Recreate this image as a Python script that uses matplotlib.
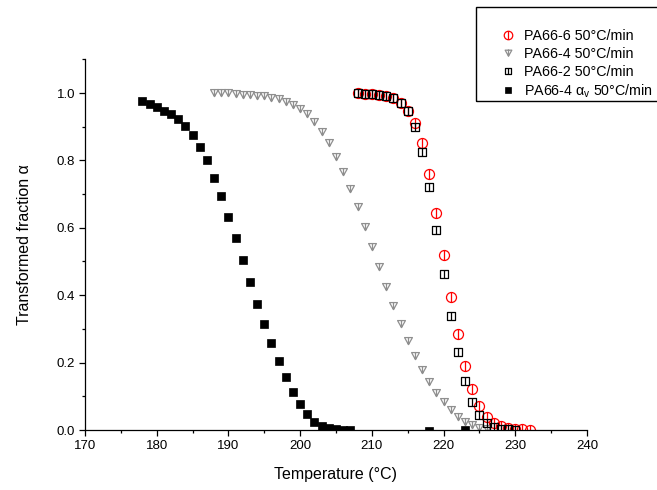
import numpy as np
import matplotlib
matplotlib.use("Agg")
import matplotlib.pyplot as plt
from matplotlib.path import Path
from matplotlib.patches import Rectangle
from matplotlib.ticker import MultipleLocator

plt.rcParams['font.family'] = ['Liberation Sans', 'DejaVu Sans']
plt.rcParams['mathtext.fontset'] = 'custom'
plt.rcParams['mathtext.rm'] = 'Liberation Sans'
plt.rcParams['mathtext.it'] = 'Liberation Sans'

# ---------------- data ----------------
t_pa666 = [208, 209, 210, 211, 212, 213, 214, 215, 216, 217, 218, 219, 220,
           221, 222, 223, 224, 225, 226, 227, 228, 229, 230, 231, 232]
a_pa666 = [0.999, 0.998, 0.997, 0.995, 0.991, 0.984, 0.971, 0.947, 0.910,
           0.851, 0.759, 0.645, 0.518, 0.395, 0.284, 0.191, 0.121, 0.071,
           0.040, 0.022, 0.012, 0.007, 0.004, 0.002, 0.001]

t_pa664 = list(range(188, 227))
a_pa664 = [1.000, 0.999, 0.999, 0.997, 0.995, 0.994, 0.992, 0.990, 0.986,
           0.981, 0.973, 0.965, 0.953, 0.937, 0.913, 0.884, 0.851, 0.811,
           0.767, 0.715, 0.661, 0.603, 0.544, 0.483, 0.425, 0.368, 0.315,
           0.265, 0.220, 0.178, 0.143, 0.111, 0.082, 0.059, 0.040, 0.025,
           0.014, 0.007, 0.002]

t_pa662 = [208, 209, 210, 211, 212, 213, 214, 215, 216, 217, 218, 219, 220,
           221, 222, 223, 224, 225, 226, 227, 228, 229, 230]
a_pa662 = [0.999, 0.998, 0.997, 0.995, 0.991, 0.984, 0.971, 0.947, 0.900,
           0.826, 0.720, 0.593, 0.462, 0.338, 0.230, 0.145, 0.084, 0.045,
           0.020, 0.009, 0.004, 0.002, 0.001]

t_av = [178, 179, 180, 181, 182, 183, 184, 185, 186, 187, 188, 189, 190,
        191, 192, 193, 194, 195, 196, 197, 198, 199, 200, 201, 202, 203,
        204, 205, 206, 207, 218, 223]
a_av = [0.975, 0.968, 0.958, 0.948, 0.938, 0.922, 0.902, 0.875, 0.840,
        0.800, 0.749, 0.693, 0.633, 0.569, 0.503, 0.438, 0.375, 0.314,
        0.257, 0.205, 0.156, 0.113, 0.077, 0.047, 0.025, 0.012, 0.005,
        0.002, 0.001, 0.000, -0.004, 0.000]

labels = ['PA66-6 50°C/min', 'PA66-4 50°C/min', 'PA66-2 50°C/min',
          r'PA66-4 $\alpha_\mathregular{v}$ 50°C/min']
x_ticks = [170, 180, 190, 200, 210, 220, 230, 240]
y_ticks = [0.0, 0.2, 0.4, 0.6, 0.8, 1.0]

# ---------------- custom markers ----------------
vline = Path([[0, -1], [0, 1]], [Path.MOVETO, Path.LINETO])
circ_bar = Path.make_compound_path(Path.unit_circle(), vline)
sq = Path([[-1, -1], [1, -1], [1, 1], [-1, 1], [-1, -1]],
          [Path.MOVETO, Path.LINETO, Path.LINETO, Path.LINETO, Path.CLOSEPOLY])
sq_bar = Path.make_compound_path(sq, vline)
tri = Path([[-1, 1], [1, 1], [0, -0.8], [-1, 1]],
           [Path.MOVETO, Path.LINETO, Path.LINETO, Path.CLOSEPOLY])
tri_bar = Path.make_compound_path(tri, Path([[0, 1.15], [0, -0.8]],
                                            [Path.MOVETO, Path.LINETO]))

fig = plt.figure(figsize=(6.57, 4.90), dpi=100)
ax = fig.add_axes([85 / 657, 1 - 430 / 490, 502 / 657, (430 - 59.3) / 490])

h1, = ax.plot(t_pa666, a_pa666, linestyle='none', marker=circ_bar,
              markersize=7.2, markerfacecolor='none', markeredgecolor='#ff0000',
              markeredgewidth=0.9, label=labels[0])
h2, = ax.plot(t_pa664, a_pa664, linestyle='none', marker=tri_bar,
              markersize=6.5, markerfacecolor='none', markeredgecolor='#8f8f8f',
              markeredgewidth=0.9, label=labels[1])
h3, = ax.plot(t_pa662, a_pa662, linestyle='none', marker=sq_bar,
              markersize=5.2, markerfacecolor='none', markeredgecolor='black',
              markeredgewidth=0.9, label=labels[2])
h4, = ax.plot(t_av, a_av, linestyle='none', marker='s',
              markersize=5.3, markerfacecolor='black', markeredgecolor='black',
              markeredgewidth=0.5, label=labels[3])

ax.set_xlim(170, 240)
ax.set_ylim(0, 1.1)
ax.set_xticks(x_ticks)
ax.set_xticklabels([str(v) for v in x_ticks])
ax.set_yticks(y_ticks)
ax.set_yticklabels([f'{v:.1f}' for v in y_ticks])
ax.xaxis.set_minor_locator(MultipleLocator(5))
ax.yaxis.set_minor_locator(MultipleLocator(0.1))
ax.tick_params(which='major', direction='out', length=4.5, width=0.9,
               labelsize=9.5, colors='black', pad=2.5)
ax.tick_params(which='minor', direction='out', length=2.5, width=0.9)
for s in ['top', 'right']:
    ax.spines[s].set_visible(False)
for s in ['left', 'bottom']:
    ax.spines[s].set_linewidth(0.9)

ax.set_xlabel('Temperature (°C)', fontsize=11.5, labelpad=11)
ax.set_ylabel('Transformed fraction α', fontsize=11.5, labelpad=18)

# legend box (extends past the right edge of the figure)
fig.patches.append(Rectangle((476 / 657, 1 - 101 / 490), 0.4, 94 / 490,
                             transform=fig.transFigure, fill=False,
                             edgecolor='black', linewidth=1.0))
fig.legend(handles=[h1, h2, h3, h4], loc='upper left',
           bbox_to_anchor=(492 / 657, 1 - 22 / 490), frameon=False,
           fontsize=10.3, handlelength=1.2, handletextpad=0.55,
           labelspacing=0.26, borderpad=0, markerscale=0.85)

fig.savefig('out.png', dpi=100)
